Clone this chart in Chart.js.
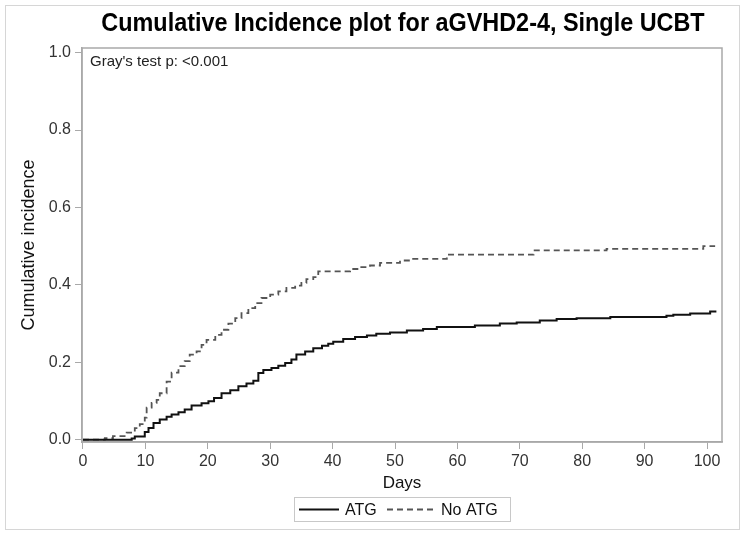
<!DOCTYPE html>
<html>
<head>
<meta charset="utf-8">
<script src="https://cdn.jsdelivr.net/npm/chart.js@4.4.1/dist/chart.umd.min.js"></script>
<style>
  html, body { margin: 0; padding: 0; background: #fff; }
  #wrap { width: 745px; height: 535px; position: relative; }
</style>
</head>
<body>
<div id="wrap"><canvas id="cifChart" width="745" height="535"></canvas></div>
<script>
/*** Data ***/
const chartTitle = 'Cumulative Incidence plot for aGVHD2-4, Single UCBT';
const testNote = "Gray's test p: <0.001";
const seriesNames = ['ATG', 'No ATG'];

// ATG: day of each step and cumulative incidence after it
const atgDays = [0, 7.8, 8.3, 9.9, 10.5, 11.3, 12.3, 13.4, 14.2, 15.3, 16.3, 17.4, 19, 20.1, 21, 22.2, 23.6, 24.9,
    26.2, 27.3, 28.1, 28.9, 30.2, 31.3, 32.4, 33.4, 34.2, 35.6, 36.9, 38.3, 39.3, 40.1, 41.7, 43.6, 45.5, 47,
    49.2, 51.9, 54.5, 56.7, 62.8, 66.8, 69.5, 73.2, 75.9, 79.1, 84.5, 93.5, 94.6, 97.3, 100.5, 101.5];
const atgCif = [0, 0.003, 0.008, 0.02, 0.03, 0.043, 0.052, 0.059, 0.065, 0.071, 0.078, 0.088, 0.094, 0.099, 0.108, 0.12,
    0.128, 0.138, 0.145, 0.152, 0.172, 0.18, 0.185, 0.191, 0.198, 0.207, 0.22, 0.228, 0.236, 0.243, 0.248, 0.253,
    0.26, 0.265, 0.269, 0.274, 0.277, 0.282, 0.286, 0.291, 0.295, 0.3, 0.303, 0.308, 0.312, 0.314, 0.317, 0.32,
    0.323, 0.326, 0.331, 0.331];

// No ATG
const noAtgDays = [0, 3.5, 4.8, 7, 8.3, 9.1, 9.9, 10.2, 11, 11.8, 12.3, 13.4, 14.2, 15.3, 16.3, 17.1, 18.2, 19,
    19.8, 21.2, 22.2, 23.3, 24.4, 25.4, 26.5, 27.6, 28.6, 30, 31.3, 32.6, 34, 35, 35.8, 36.9, 37.7, 42.8, 44.4,
    46, 47.6, 50.8, 52.4, 58.3, 72.2, 83.9, 99.4, 101.3];
const noAtgCif = [0, 0.004, 0.009, 0.018, 0.03, 0.04, 0.057, 0.083, 0.095, 0.103, 0.12, 0.15, 0.173, 0.19, 0.203,
    0.22, 0.228, 0.245, 0.258, 0.271, 0.284, 0.3, 0.314, 0.327, 0.34, 0.353, 0.366, 0.375, 0.383, 0.392, 0.398,
    0.405, 0.415, 0.42, 0.435, 0.441, 0.446, 0.45, 0.457, 0.463, 0.467, 0.478, 0.489, 0.493, 0.5, 0.5];

const xTicks = [0, 10, 20, 30, 40, 50, 60, 70, 80, 90, 100];
const yTicks = [0, 0.2, 0.4, 0.6, 0.8, 1.0];

/*** Styles ***/
const fontFamily = "'Liberation Sans', Arial, sans-serif";
const frameColor = '#a9a9a9';
const atgColor = '#111111';
const noAtgColor = '#555555';
const noAtgDash = [6, 4];

function toPoints(days, values) {
    return days.map(function (d, i) { return { x: d, y: values[i] }; });
}

/*** Title, frame, note and legend ***/
const decorPlugin = {
    id: 'decor',
    beforeDraw(chart) {
        const ctx = chart.ctx;
        ctx.save();
        ctx.strokeStyle = '#d6d6d6';
        ctx.lineWidth = 1;
        ctx.strokeRect(5.5, 5.5, 734, 524);
        ctx.restore();
    },
    afterDraw(chart) {
        const ctx = chart.ctx;
        const area = chart.chartArea;
        const midX = (area.left + area.right) / 2;
        ctx.save();

        // plot frame (top and right sides)
        ctx.strokeStyle = frameColor;
        ctx.lineWidth = 1.5;
        ctx.strokeRect(area.left, area.top, area.right - area.left, area.bottom - area.top);

        // title
        ctx.fillStyle = '#000';
        ctx.font = 'bold 26px ' + fontFamily;
        ctx.textAlign = 'center';
        ctx.textBaseline = 'alphabetic';
        ctx.save();
        ctx.translate(midX + 1, 31);
        ctx.scale(0.9, 1);
        ctx.fillText(chartTitle, 0, 0);
        ctx.restore();

        // test note
        ctx.font = '15px ' + fontFamily;
        ctx.textAlign = 'left';
        ctx.fillStyle = '#222';
        ctx.fillText(testNote, area.left + 8, area.top + 18);

        // legend
        const lx = 294, ly = 497, lw = 216, lh = 24;
        ctx.strokeStyle = '#c8c8c8';
        ctx.lineWidth = 1;
        ctx.strokeRect(lx + 0.5, ly + 0.5, lw, lh);
        const cy = ly + lh / 2 + 0.5;

        ctx.strokeStyle = atgColor;
        ctx.lineWidth = 2;
        ctx.setLineDash([]);
        ctx.beginPath();
        ctx.moveTo(lx + 5, cy);
        ctx.lineTo(lx + 45, cy);
        ctx.stroke();
        ctx.fillStyle = '#111';
        ctx.font = '16px ' + fontFamily;
        ctx.textBaseline = 'middle';
        ctx.fillText(seriesNames[0], lx + 51, cy + 1);

        ctx.strokeStyle = noAtgColor;
        ctx.setLineDash(noAtgDash);
        ctx.beginPath();
        ctx.moveTo(lx + 93, cy);
        ctx.lineTo(lx + 139, cy);
        ctx.stroke();
        ctx.setLineDash([]);
        ctx.fillText(seriesNames[1], lx + 147, cy + 1);

        ctx.restore();
    }
};

/*** Chart ***/
const cifChart = new Chart(document.getElementById('cifChart'), {
    type: 'line',
    data: {
        datasets: [
            {
                label: seriesNames[0],
                data: toPoints(atgDays, atgCif),
                stepped: true,
                borderColor: atgColor,
                borderWidth: 2,
                pointRadius: 0,
                fill: false
            },
            {
                label: seriesNames[1],
                data: toPoints(noAtgDays, noAtgCif),
                stepped: true,
                borderColor: noAtgColor,
                borderDash: noAtgDash,
                borderWidth: 1.8,
                pointRadius: 0,
                fill: false
            }
        ]
    },
    options: {
        responsive: false,
        animation: false,
        layout: {
            padding: { top: 48, right: 23, left: 0, bottom: 0 }
        },
        plugins: {
            legend: { display: false },
            title: { display: false },
            tooltip: { enabled: false }
        },
        scales: {
            x: {
                type: 'linear',
                min: -0.16,
                max: 102.4,
                afterBuildTicks: function (scale) {
                    scale.ticks = xTicks.map(function (v) { return { value: v }; });
                },
                afterFit: function (scale) { scale.height = 93; },
                grid: {
                    drawOnChartArea: false,
                    drawTicks: true,
                    tickLength: 7,
                    color: frameColor,
                    tickColor: frameColor
                },
                border: { display: true, color: frameColor, width: 1.5 },
                ticks: {
                    color: '#333',
                    padding: 3,
                    maxRotation: 0,
                    font: { family: fontFamily, size: 16 }
                },
                title: {
                    display: true,
                    text: 'Days',
                    color: '#111',
                    font: { family: fontFamily, size: 17 },
                    padding: { top: 0, bottom: 41 }
                }
            },
            y: {
                type: 'linear',
                min: -0.006,
                max: 1.012,
                afterBuildTicks: function (scale) {
                    scale.ticks = yTicks.map(function (v) { return { value: v }; });
                },
                afterFit: function (scale) { scale.width = 82; },
                grid: {
                    drawOnChartArea: false,
                    drawTicks: true,
                    tickLength: 7,
                    color: frameColor,
                    tickColor: frameColor
                },
                border: { display: true, color: frameColor, width: 1.5 },
                ticks: {
                    color: '#333',
                    padding: 4,
                    font: { family: fontFamily, size: 16 },
                    callback: function (value) { return value.toFixed(1); }
                },
                title: {
                    display: true,
                    text: 'Cumulative incidence',
                    color: '#111',
                    font: { family: fontFamily, size: 18 },
                    padding: { top: 18, bottom: 0 }
                }
            }
        }
    },
    plugins: [decorPlugin]
});
</script>
</body>
</html>
